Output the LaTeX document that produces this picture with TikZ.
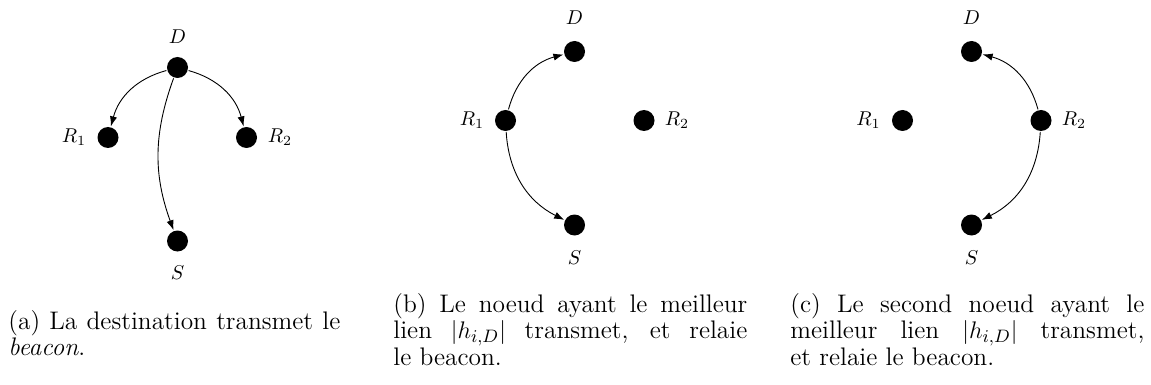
\documentclass[tikz,border=0pt]{standalone}
\usetikzlibrary{arrows.meta}
\begin{document}
\begin{tikzpicture}[x=0.5pt,y=-0.5pt,
  dot/.style={circle,fill=black,inner sep=0pt,minimum size=10.5pt},
  lbl/.style={inner sep=0pt,font=\fontsize{10}{12}\selectfont},
  arr/.style={-{Latex[length=5pt,width=3.6pt]},line width=0.45pt,shorten >=0.3pt,shorten <=0.3pt},
  captext/.style={inner sep=0pt,anchor=base west,font=\fontsize{12.7}{11.8}\selectfont}]
\useasboundingbox (0,0) rectangle (1151,385);
% ---------- (a)
\node[dot] (aD) at (177.5,67.5) {};
\node[dot] (aR1) at (108,137.5) {};
\node[dot] (aR2) at (246.5,137.5) {};
\node[dot] (aS) at (177.5,241) {};
\node[lbl] (aDl) at (177.5,37) {$D$};
\node[lbl] (aSl) at (177.5,273) {$S$};
\node[lbl] (aR1l) at (74,137.5) {$R_1$};
\node[lbl] (aR2l) at (280,137.5) {$R_2$};
\draw[arr] (aD) to[bend right] (aR1);
\draw[arr] (aD) to[bend left] (aR2);
\draw[arr] (aD) to[bend right=20] (aS);
\node[captext] (capa) at (8,329) {\parbox[t]{166pt}{(a) La destination transmet le\linebreak \emph{beacon}.}};
% ---------- (b)
\node[dot] (bD) at (574.5,51.5) {};
\node[dot] (bR1) at (505.5,120.5) {};
\node[dot] (bR2) at (644,120.5) {};
\node[dot] (bS) at (574.5,225) {};
\node[lbl] (bDl) at (574.5,18) {$D$};
\node[lbl] (bSl) at (574.5,258) {$S$};
\node[lbl] (bR1l) at (472,120.5) {$R_1$};
\node[lbl] (bR2l) at (677,120.5) {$R_2$};
\draw[arr] (bR1) to[bend left] (bD);
\draw[arr] (bR1) to[bend right] (bS);
\node[captext] (capb) at (393,312) {\parbox[t]{177pt}{(b) Le noeud ayant le meilleur\linebreak lien $|h_{i,D}|$ transmet, et relaie\linebreak le beacon.}};
% ---------- (c)
\node[dot] (cD) at (971.5,51.5) {};
\node[dot] (cR1) at (902.5,120.5) {};
\node[dot] (cR2) at (1041,120.5) {};
\node[dot] (cS) at (971.5,225) {};
\node[lbl] (cDl) at (971.5,18) {$D$};
\node[lbl] (cSl) at (971.5,258) {$S$};
\node[lbl] (cR1l) at (868.5,120.5) {$R_1$};
\node[lbl] (cR2l) at (1074,120.5) {$R_2$};
\draw[arr] (cR2) to[bend right] (cD);
\draw[arr] (cR2) to[bend left] (cS);
\node[captext] (capc) at (790,312) {\parbox[t]{177pt}{(c) Le second noeud ayant le\linebreak meilleur lien $|h_{i,D}|$ transmet,\linebreak et relaie le beacon.}};
\end{tikzpicture}
\end{document}
